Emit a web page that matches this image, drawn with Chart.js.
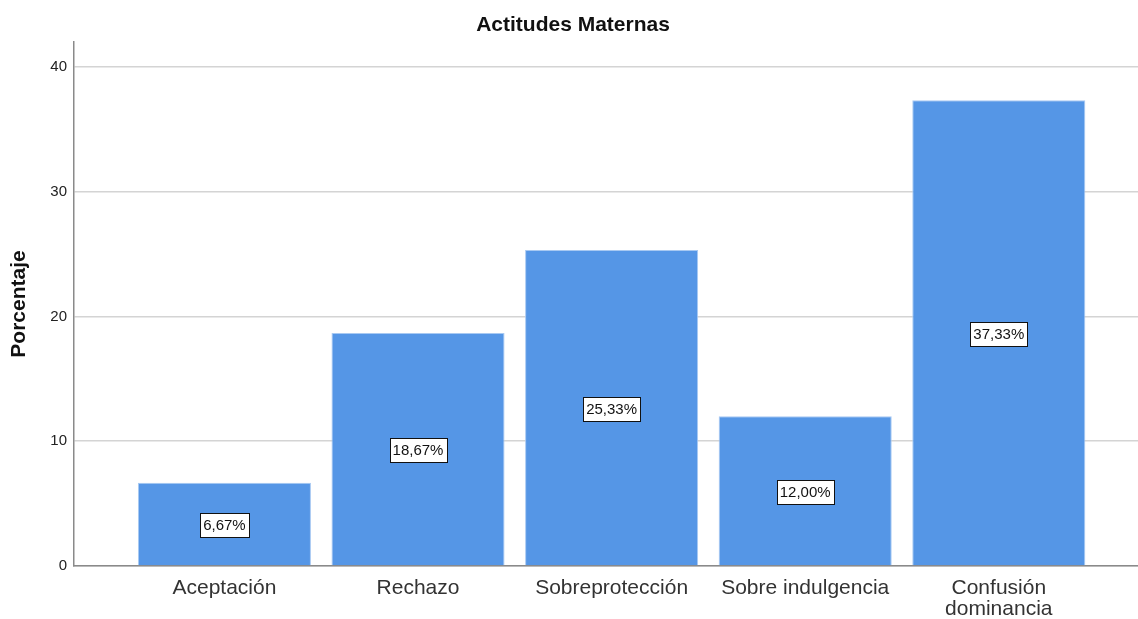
<!DOCTYPE html>
<html>
<head>
<meta charset="utf-8">
<script src="https://cdn.jsdelivr.net/npm/chart.js@4"></script>
<style>
  html, body { margin: 0; padding: 0; background: #fff; }
  #wrap { width: 1138px; height: 619px; position: relative; }
</style>
</head>
<body>
<div id="wrap"><canvas id="myChart" width="1138" height="619"></canvas></div>
<script>
// data
const categories = ["Aceptación", "Rechazo", "Sobreprotección", "Sobre indulgencia", ["Confusión", "dominancia"]];
const percentages = [6.67, 18.67, 25.33, 12.00, 37.33];
const yTicks = [0, 10, 20, 30, 40];

const chartTitle = "Actitudes Maternas";
const yTitle = "Porcentaje";
const fontName = "'Liberation Sans', Arial, sans-serif";

// white boxes with the value in the middle of each bar
const barLabels = {
   id: "barLabels",
   afterDatasetsDraw(chart) {
      const ctx = chart.ctx;
      const meta = chart.getDatasetMeta(0);
      ctx.save();
      ctx.font = "15px " + fontName;
      ctx.textAlign = "center";
      ctx.textBaseline = "middle";
      meta.data.forEach((bar, i) => {
         let txt = percentages[i].toFixed(2).replace(".", ",") + "%";
         let cx = bar.x;
         let cy = (bar.y + bar.base) / 2 + 1;
         let w = Math.round(ctx.measureText(txt).width + 6);
         let h = 24;
         let bx = Math.round(cx - w / 2) + 0.5;
         let by = Math.round(cy - h / 2) + 0.5;
         ctx.fillStyle = "#fff";
         ctx.fillRect(bx, by, w, h);
         ctx.strokeStyle = "#111";
         ctx.lineWidth = 1;
         ctx.strokeRect(bx, by, w, h);
         ctx.fillStyle = "#111";
         ctx.fillText(txt, cx, cy + 1);
      });
      ctx.restore();
   }
};

// title and y-axis title drawn by hand so the plot area stays fixed
const titles = {
   id: "titles",
   afterDraw(chart) {
      const ctx = chart.ctx;
      const area = chart.chartArea;
      ctx.save();
      ctx.fillStyle = "#111";
      ctx.font = "bold 21px " + fontName;
      ctx.textAlign = "center";
      ctx.textBaseline = "middle";
      ctx.fillText(chartTitle, 573, 25);
      ctx.translate(19, (area.top + area.bottom) / 2);
      ctx.rotate(-Math.PI / 2);
      ctx.fillText(yTitle, 0, 0);
      ctx.restore();
   }
};

const ctx = document.getElementById("myChart");

new Chart(ctx, {
   type: "bar",
   data: {
      datasets: [{
         label: "Porcentaje",
         data: percentages.map((v, i) => ({ x: i, y: v })),
         backgroundColor: "#5596e6",
         borderColor: "#a8c9f2",
         borderWidth: 1,
         barPercentage: 1,
         categoryPercentage: 0.894
      }]
   },
   options: {
      responsive: false,
      animation: false,
      devicePixelRatio: 1,
      layout: { padding: { top: 42, left: 0, right: 0, bottom: 0 } },
      plugins: {
         legend: { display: false },
         tooltip: { enabled: false },
         title: { display: false }
      },
      scales: {
         x: {
            type: "linear",
            offset: false,
            min: -0.777,
            max: 4.719,
            grid: { display: false },
            border: { color: "#8a8a8a", width: 1.5 },
            afterBuildTicks: axis => { axis.ticks = categories.map((c, i) => ({ value: i })); },
            afterFit: axis => { axis.height = 53; },
            ticks: {
               autoSkip: false,
               maxRotation: 0,
               padding: 4,
               color: "#333",
               font: { size: 21, family: fontName, lineHeight: 1.0 },
               callback: (value) => categories[value]
            }
         },
         y: {
            min: 0,
            max: 42,
            afterBuildTicks: axis => { axis.ticks = yTicks.map(v => ({ value: v })); },
            afterFit: axis => { axis.width = 74; },
            grid: { color: "#d4d4d4", lineWidth: 1.5, drawTicks: false },
            border: { color: "#8a8a8a", width: 1.5 },
            ticks: {
               padding: 7,
               color: "#222",
               font: { size: 15, family: fontName }
            }
         }
      }
   },
   plugins: [barLabels, titles]
});
</script>
</body>
</html>
